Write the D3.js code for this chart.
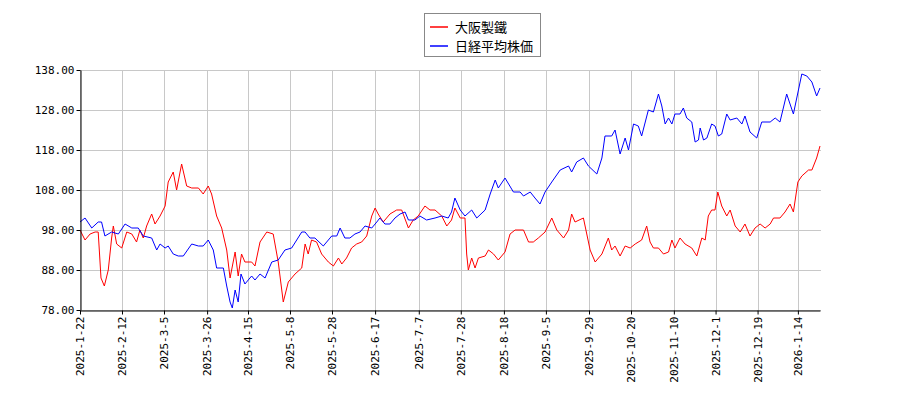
<!DOCTYPE html><html><head><meta charset="utf-8">
<script src="https://cdn.jsdelivr.net/npm/d3@7"></script>
<style>body{margin:0;background:#fff}</style></head><body><svg id="c" width="900" height="400"></svg>
<script>
const seriesNames=["大阪製鐵","日経平均株価"];
const tickPos=[0,15,30,45.4,60,75,90,105.4,121,136,151.4,166.4,181.8,196.8,212.1,227,242,256.4];
const tickLabels=["2025-1-22","2025-2-12","2025-3-5","2025-3-26","2025-4-15","2025-5-8","2025-5-28","2025-6-17","2025-7-7","2025-7-28","2025-8-18","2025-9-5","2025-9-29","2025-10-20","2025-11-10","2025-12-1","2025-12-19","2026-1-14"];
const yTicks=[78,88,98,108,118,128,138];
const redT=[0,1.8,3.6,5.4,6.5,7.5,8.7,10.1,11.3,11.9,13.1,14.9,16.7,18.5,20.2,21.4,22.6,23.8,25.6,26.8,28.6,30.4,31.5,33.3,34.5,36.3,38.1,39.9,42.3,44,45.8,47,48.8,50.6,52.4,53.6,55.4,56.5,57.7,58.9,61.3,62.5,64.3,66.7,69,70.8,72.6,74.4,76.8,79.2,80.4,81.5,82.7,84.5,86.3,88.7,90.5,92.3,93.5,95.2,97,98.8,100.6,102.4,104.2,105.4,106.5,108.3,110.7,113.1,114.9,117.3,119,120.8,123.2,125,126.8,129.2,131,132.7,133.9,
135.8,137.5,138.1,138.7,139.9,141.1,142.3,144.7,145.9,147.7,149.4,151.8,153.6,155.4,158.4,160.2,161.9,163.7,166.1,168.5,170.3,172.7,174.5,175.6,176.8,179.8,182.2,184,186.4,188.7,189.9,191.1,192.9,194.7,196.5,198.3,200.6,202.4,203.6,204.8,206.6,208.4,210.2,211.4,212.5,214.3,216.1,218.5,220.3,222.1,223.3,224.4,225.6,226.8,227.8,229.2,231,232.2,234,235.8,237.5,239.3,241.1,242.9,244.7,246.5,247.7,250,251.8,253.6,254.8,256.4,257.8,260.2,261.4,263.1,264.3];
const redV=[98,95.5,97,97.5,97.5,86,84,88,96,99,94.5,93.5,97.5,97,95,98,96,99,102,99.5,101.5,104,110,112.5,108,114.5,109,108.5,108.5,107,109,107,101.5,98.5,93,86,92.5,86.5,92,90,90,89,95,97.5,97,90,80,85,87,88.5,94.5,92,95.5,95,92,90,89,91,89.5,91,93.5,94.5,95,96.5,101.5,103.5,102,100,102,103,103,98.5,100.5,101.5,104,103,103,101.5,99,100.5,103.5,
101,101,92,88,91,88.5,91,91.5,93,92,90.5,92.5,97,98,98,95,95,96,97.5,101,98,96,98,102,100,101,93,90,92,96,93,94,91.5,94,93.5,94.5,95.5,99,95,93.5,93.5,92,92.5,95.5,93.5,96,94.5,93.5,91.5,96,95.5,101.5,103,103,107.5,104,101.5,103,99,97.5,99.5,96.5,98.5,99.5,98.5,99.5,101,101,102.5,104.5,102.5,110,111.5,113,113,116,119];
const blueT=[0,1.8,4.2,6.5,7.7,8.9,11.3,13.7,16.1,18.5,20.8,22.6,25.6,27.4,28.6,30.4,31.5,33.3,35.1,36.9,39.9,42.3,44,45.8,47.6,48.8,51.2,52.4,53.6,54.4,55.4,56.5,57.5,58.9,61.3,62.5,64.3,66.1,68.5,70.8,73.2,75.6,77.4,79.2,80.4,82.1,83.9,86.9,89.9,91.7,92.9,94.6,96.4,98.2,100,101.8,104.2,106,107.1,108.9,110.7,112.5,114.3,116.1,117.3,119.6,121.4,123.8,126.8,129.2,131.5,132.7,133.9,
135.8,137.5,139.9,141.7,144.7,146.5,148.3,149.4,151.8,154.8,157.2,158.4,160.8,162.5,164.3,166.1,168.5,171.5,174.5,175.6,177.4,179.8,181.6,184.6,186.4,187.5,189.9,191.1,192.9,194.7,195.9,197.7,199.4,200.6,203,204.8,206.6,207.8,209,210.2,211.4,212.5,214.3,215.5,216.7,218.5,219.7,220.9,221.5,222.7,223.9,225.6,226.8,228,229.2,231,232.2,234.6,236.4,237.5,239.3,241.7,243.5,246.5,248.3,250,252.4,254.8,257.8,259.6,261.4,263.1,264.3];
const blueV=[100,101,98.5,100,100,96.5,97.5,97,99.5,98.5,98.5,96.5,96,93,94.5,93.5,94,92,91.5,91.5,94.5,94,94,95.5,93,88.5,88.5,84,80,78.5,83,80,87,84.5,86.5,85.5,87,86,90,90.5,93,93.5,95.5,97.5,97.5,96,96,94,96.5,96.5,98.5,96,96,97,97.5,99,98.5,100,101,99.5,99.5,101,102,102.5,100.5,100.5,101.5,100.5,101,101.5,101,102.5,106,
103,101.5,103,101,103,107,110.5,108.5,111,107.5,107.5,106.5,107.5,106,104.5,107.5,110,113,114,112.5,115,116,114,112,116,121.5,121.5,123,117,121,118,124.5,124,121.5,128,127.5,132,129,124.5,126,124.5,127,127,128.5,126,125,120,120.5,123.5,120.5,121,124.5,124,121.5,122,127,125.5,126,124.5,126.5,122.5,121,125,125,126,125,132,127,137,136.5,135,131.5,133.5];

const svg=d3.select("#c");
const L=80,R=821,T=70,B=310;
const x=d3.scaleLinear().domain([0,264.3]).range([L,R-1]);
const y=d3.scaleLinear().domain([78,138]).range([B,T]);
const g=svg.append("g");
g.selectAll(".hg").data(yTicks).enter().append("line").attr("x1",L).attr("x2",R).attr("y1",d=>y(d)+.5).attr("y2",d=>y(d)+.5).attr("stroke","#c8c8c8");
g.selectAll(".vg").data(tickPos).enter().append("line").attr("x1",d=>Math.round(x(d))+.5).attr("x2",d=>Math.round(x(d))+.5).attr("y1",T).attr("y2",B).attr("stroke","#c8c8c8");
const line=d3.line().x(d=>x(d[0])).y(d=>y(d[1]));
svg.append("path").datum(redT.map((t,i)=>[t,redV[i]])).attr("d",line).attr("fill","none").attr("stroke","#ff0000").attr("stroke-width",1);
svg.append("path").datum(blueT.map((t,i)=>[t,blueV[i]])).attr("d",line).attr("fill","none").attr("stroke","#0000ff").attr("stroke-width",1);
const ya=svg.append("g").attr("transform",`translate(${L+.5},0)`).call(d3.axisLeft(y).tickValues(yTicks).tickFormat(d3.format(".2f")).tickSize(4).tickSizeOuter(0));
const xa=svg.append("g").attr("transform",`translate(0,${B+.5})`).call(d3.axisBottom(x).tickValues(tickPos).tickFormat((d,i)=>tickLabels[i]).tickSize(4).tickSizeOuter(0));
[ya,xa].forEach(a=>{a.selectAll("text").attr("font-family","DejaVu Sans Mono, monospace").attr("font-size",11).attr("fill","#000");a.select(".domain").attr("stroke","#000");});
ya.selectAll("text").attr("x",-6);
xa.selectAll("text").attr("transform","rotate(-90)").attr("text-anchor","end").attr("x",-6).attr("y",0).attr("dy","0.35em");
const lg=svg.append("g");
lg.append("rect").attr("x",424.5).attr("y",13.5).attr("width",116).attr("height",43).attr("fill","#fff").attr("stroke","#888");
seriesNames.forEach((n,i)=>{const yy=27+i*19;
lg.append("line").attr("x1",430).attr("x2",448).attr("y1",yy).attr("y2",yy).attr("stroke",i?"#0000ff":"#ff0000").attr("stroke-width",1.5);
lg.append("text").attr("x",455).attr("y",yy+4.5).text(n).attr("font-family","Noto Sans CJK JP").attr("font-size",13);});
</script></body></html>
